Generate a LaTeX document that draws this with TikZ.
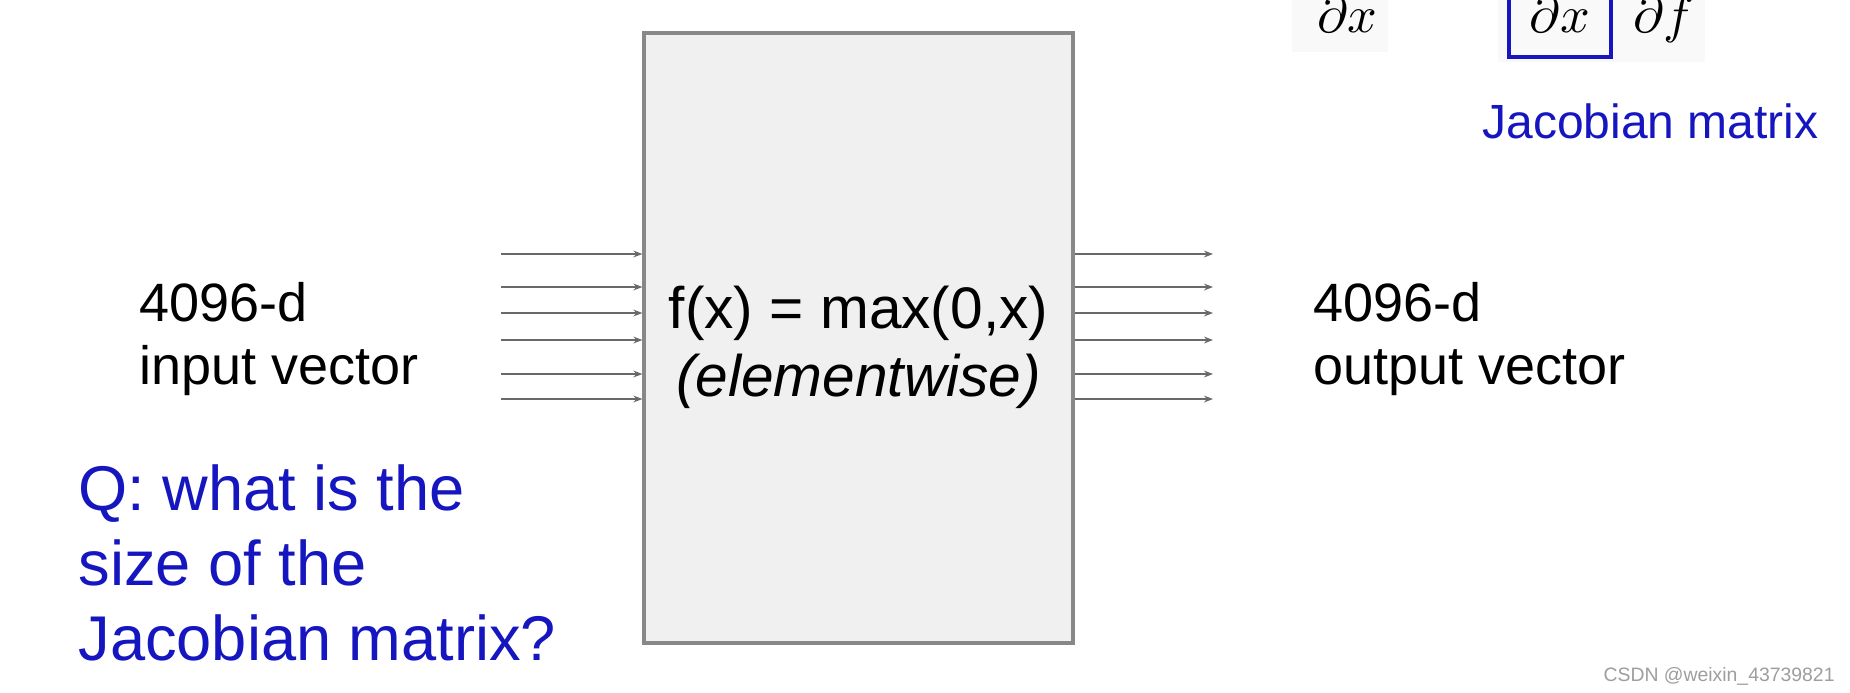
\documentclass[tikz,border=0pt]{standalone}
\usepackage{fontspec}
\setmainfont{Liberation Sans}
\usetikzlibrary{arrows.meta}
\definecolor{slideblue}{RGB}{22,22,192}
\definecolor{boxfill}{RGB}{240,240,240}
\definecolor{boxline}{RGB}{136,136,136}
\definecolor{wiregray}{RGB}{105,105,105}
\definecolor{patch}{RGB}{249,249,249}
\begin{document}
\begin{tikzpicture}[x=0.5pt,y=-0.5pt,
  sidelbl/.style={inner sep=0pt, anchor=base west, font=\fontsize{27}{31}\selectfont},
  midlbl/.style={inner sep=0pt, anchor=base, font=\fontsize{29.3}{34}\selectfont},
  qlbl/.style={inner sep=0pt, anchor=base west, text=slideblue, font=\fontsize{31.6}{37}\selectfont},
  jaclbl/.style={inner sep=0pt, anchor=base west, text=slideblue, font=\fontsize{24}{28}\selectfont},
  mathlbl/.style={inner sep=0pt, scale=2.6},
  funcbox/.style={draw=boxline, fill=boxfill, line width=1.6pt, inner sep=0pt,
                  minimum width=214.5pt, minimum height=305pt},
  jacbox/.style={draw=slideblue, line width=1.75pt, inner sep=0pt,
                 minimum width=51pt, minimum height=40pt},
  wire/.style={draw=wiregray, line width=1.1pt, -{Stealth[length=4.5pt,width=3.4pt]}},
  wmark/.style={inner sep=0pt, anchor=base east, text=black!38, font=\fontsize{9.7}{11}\selectfont}
]
\useasboundingbox[fill=white] (0,0) rectangle (1850,692);

% faint patches behind the cut-off formulas
\fill[patch] (1292,0) rectangle (1388,52);
\fill[patch] (1498,0) rectangle (1705,62);

% function box
\node[funcbox] (box) at (858.5,338) {};
\node[midlbl] (fx) at (858.5,328) {f(x) = max(0,x)};
\node[midlbl] (ew) at (858.5,396) {\itshape (elementwise)};

% wires
\foreach \yy [count=\i] in {254,287,313,340,374,399} {
  \coordinate (inL\i) at (501,\yy);
  \coordinate (outR\i) at (1213,\yy);
  \draw[wire] (inL\i) -- (inL\i -| box.west);
  \draw[wire] (outR\i -| box.east) -- (outR\i);
}

% side labels
\node[sidelbl] (in1) at (139,321) {4096-d};
\node[sidelbl] (in2) at (139,384) {input vector};
\node[sidelbl] (out1) at (1313,321) {4096-d};
\node[sidelbl] (out2) at (1313,384) {output vector};

% question
\node[qlbl] (q1) at (78,510) {Q: what is the};
\node[qlbl] (q2) at (78,585) {size of the};
\node[qlbl] (q3) at (78,660) {Jacobian matrix?};

% top-right formulas (cut off at the top, as in the reference)
\node[mathlbl, anchor=base west] (dxa) at (1316,32) {$\partial x$};
\node[jacbox] (jbox) at (1560,17) {};
\node[mathlbl, anchor=base] (dxb) at (1560,32) {$\partial x$};
\node[mathlbl, anchor=base west] (df) at (1632,32) {$\partial f$};
\node[jaclbl] (jac) at (1482,138) {Jacobian matrix};

% watermark
\node[wmark] (wm) at (1835,681) {CSDN @weixin\_43739821};
\end{tikzpicture}
\end{document}
